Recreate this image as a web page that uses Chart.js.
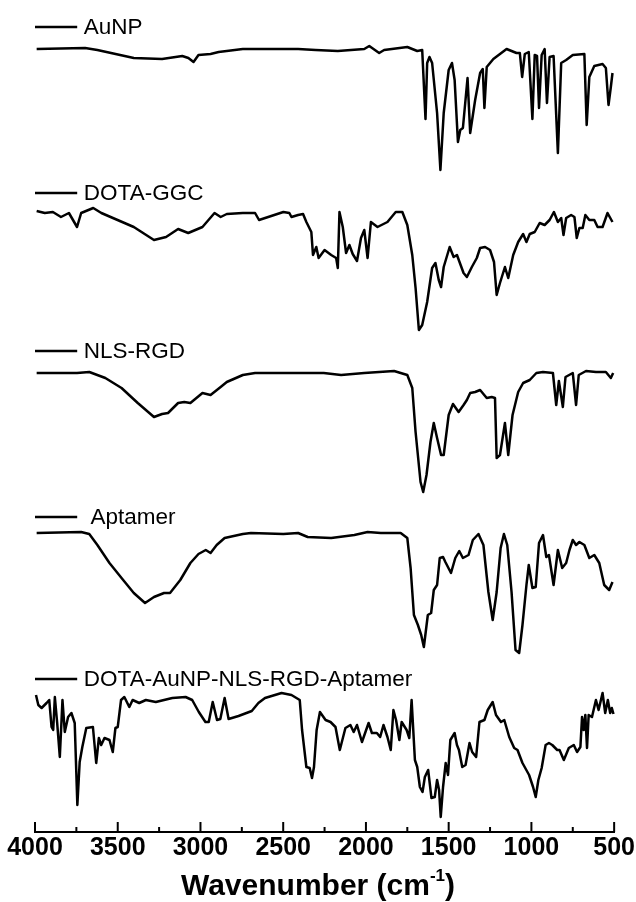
<!DOCTYPE html>
<html>
<head>
<meta charset="utf-8">
<script src="https://cdn.jsdelivr.net/npm/chart.js@4.4.1/dist/chart.umd.min.js"></script>
<style>
  html, body { margin: 0; padding: 0; background: #fff; }
  #wrap { width: 636px; height: 902px; position: relative; }
</style>
</head>
<body>
<div id="wrap"><canvas id="ftir"></canvas></div>
<script>
// FTIR spectra, relative transmittance (a.u.), plotted as an offset stack
const seriesNames = ['AuNP', 'DOTA-GGC', 'NLS-RGD', 'Aptamer', 'DOTA-AuNP-NLS-RGD-Aptamer'];
const seriesOffsets = [653, 490, 330, 169, 2];
const tickLabels = [4000, 3500, 3000, 2500, 2000, 1500, 1000, 500];

const aunpWn = [3990,3697,3623,3403,3232,3110,3073,3042,3012,2939,2890,2744,2499,2410,2304,2170,2010,1980,1920,1890,1750,1690,1660,1640,1630,1616,1600,1570,1550,1530,1500,1480,1464,1444,1430,1414,1386,1370,1340,1310,1294,1284,1270,1230,1150,1090,1070,1056,1040,1016,994,980,966,954,938,920,906,890,866,840,820,790,750,680,666,650,620,570,550,534,520,510];
const aunpT  = [130,131,129,121,120,123,121,117,124,125,127,130,130,130,129,128,130,133,126,129,132,128,129,60,116,122,116,66,9,66,109,116,99,37,49,51,101,46,79,106,110,71,112,120,130,126,126,102,125,127,60,124,123,71,124,130,76,122,123,26,116,119,124,125,54,102,113,115,111,74,92,106];

const ggcWn = [3990,3941,3892,3843,3795,3746,3721,3648,3599,3501,3403,3281,3208,3135,3074,2988,2915,2878,2841,2744,2670,2646,2499,2463,2450,2410,2380,2360,2330,2320,2300,2286,2250,2210,2180,2170,2160,2140,2120,2100,2080,2054,2030,2010,1990,1970,1930,1870,1820,1780,1750,1720,1700,1680,1660,1630,1600,1580,1560,1546,1530,1494,1470,1450,1410,1390,1360,1330,1310,1280,1250,1226,1210,1190,1160,1140,1110,1080,1050,1030,1010,980,950,920,890,864,840,820,806,790,760,740,726,710,690,674,650,620,600,570,540,510];
const ggcT  = [131,129,130,125,129,115,129,134,129,122,115,102,105,113,109,115,129,125,128,129,129,122,130,129,125,127,128,120,110,87,95,84,92,87,84,74,130,115,89,97,88,81,104,112,84,120,115,120,130,130,117,87,54,12,17,40,74,79,62,55,75,95,85,87,69,65,75,84,94,95,92,80,47,59,75,64,87,100,108,100,108,110,119,117,122,130,120,124,107,124,127,125,104,114,114,127,122,122,115,115,129,120];

const nlsWn = [3990,3746,3672,3575,3477,3379,3281,3232,3196,3135,3098,3061,2988,2939,2878,2841,2744,2670,2499,2410,2255,2150,2010,1830,1750,1720,1700,1670,1654,1634,1610,1590,1570,1546,1530,1500,1474,1440,1410,1390,1370,1340,1310,1270,1240,1220,1210,1190,1160,1140,1114,1080,1050,1010,970,930,870,850,834,810,794,750,730,714,670,610,550,520,506];
const nlsT  = [129,129,130,124,114,99,85,88,89,99,100,99,109,107,115,120,127,129,129,129,129,127,129,131,127,114,70,20,10,27,60,79,64,47,47,87,98,90,97,102,109,110,112,104,105,104,44,47,79,47,87,110,119,122,129,130,129,97,121,95,125,129,97,127,131,130,130,124,129];

const aptWn = [3990,3721,3672,3623,3550,3477,3403,3335,3281,3220,3184,3122,3061,3012,2968,2939,2902,2854,2744,2695,2499,2410,2352,2210,2070,1990,1910,1790,1750,1730,1710,1686,1666,1650,1626,1606,1590,1570,1554,1534,1520,1486,1460,1436,1414,1380,1354,1320,1290,1260,1234,1210,1186,1166,1146,1120,1096,1074,1054,1030,1016,994,974,954,930,910,894,866,840,814,790,770,750,730,710,680,650,620,590,560,530,510];
const aptT  = [130,131,129,118,100,85,70,60,66,70,70,83,100,109,113,110,118,125,129,130,129,130,126,125,128,131,130,130,125,95,48,38,28,16,48,50,73,78,105,106,101,90,105,112,105,108,123,129,118,71,43,71,115,129,118,71,13,10,38,78,98,75,76,120,128,106,108,78,113,95,100,113,123,118,121,118,105,108,100,78,73,81];

const conjWn = [3994,3980,3960,3930,3914,3900,3890,3880,3866,3850,3834,3820,3800,3780,3760,3744,3730,3714,3690,3650,3630,3614,3600,3580,3550,3530,3514,3500,3480,3460,3430,3410,3370,3330,3270,3170,3090,3050,3010,2970,2950,2926,2900,2880,2854,2830,2770,2690,2650,2610,2510,2450,2400,2386,2360,2340,2326,2314,2298,2278,2244,2214,2184,2158,2124,2094,2074,2054,2024,1984,1964,1934,1914,1894,1870,1850,1834,1818,1798,1784,1754,1738,1724,1704,1690,1674,1658,1644,1624,1604,1584,1570,1558,1548,1534,1518,1504,1490,1464,1450,1438,1418,1398,1374,1358,1334,1314,1284,1264,1234,1214,1184,1164,1134,1104,1084,1054,1014,990,974,958,938,914,894,874,844,830,804,774,744,724,704,694,684,674,664,654,634,610,594,570,554,538,524,514,504];
const conjT  = [135,125,122,127,130,103,100,133,107,73,130,98,113,117,107,25,68,83,102,103,67,92,85,92,90,78,102,103,130,133,123,130,127,130,128,132,133,130,118,108,108,128,110,111,132,111,114,119,127,132,137,135,130,100,63,62,52,63,100,118,110,108,103,80,102,105,98,105,88,107,97,97,93,105,93,80,120,110,90,108,100,92,130,70,63,43,38,53,60,32,33,50,40,13,43,67,55,90,97,85,80,63,65,87,78,73,108,110,120,128,115,108,110,93,82,80,67,55,43,33,50,62,85,87,85,80,80,70,82,85,78,83,113,100,115,82,115,113,130,120,137,117,130,117,122,116];

const seriesWn = [aunpWn, ggcWn, nlsWn, aptWn, conjWn];
const seriesT  = [aunpT, ggcT, nlsT, aptT, conjT];

const datasets = seriesNames.map((name, i) => ({
  label: name,
  data: seriesWn[i].map((w, k) => ({ x: w, y: seriesOffsets[i] + seriesT[i][k] })),
  borderColor: '#000',
  borderWidth: 2.5,
  borderJoinStyle: 'round',
  pointRadius: 0,
  tension: 0,
  fill: false,
  clip: false
}));

// Series captions: a short line sample followed by the name, above each trace
const captionPlugin = {
  id: 'captions',
  afterDatasetsDraw(chart) {
    const { ctx, scales: { x, y } } = chart;
    const lift = [22, 19, 21, 16, 21];
    const textStart = [3705, 3705, 3705, 3665, 3705];
    ctx.save();
    ctx.strokeStyle = '#000';
    ctx.fillStyle = '#000';
    ctx.lineWidth = 2.5;
    ctx.font = '22.5px "Liberation Sans", Arial, sans-serif';
    ctx.textAlign = 'left';
    ctx.textBaseline = 'middle';
    seriesNames.forEach((name, i) => {
      const py = Math.round(y.getPixelForValue(seriesOffsets[i] + 130 + lift[i]));
      ctx.beginPath();
      ctx.moveTo(x.getPixelForValue(4000), py);
      ctx.lineTo(x.getPixelForValue(3745), py);
      ctx.stroke();
      ctx.fillText(name, x.getPixelForValue(textStart[i]), py + 1);
    });
    ctx.restore();
  }
};

// Inward tick marks on the wavenumber axis and the axis title
const axisPlugin = {
  id: 'axisMarks',
  afterDraw(chart) {
    const { ctx, scales: { x }, chartArea } = chart;
    ctx.save();
    ctx.strokeStyle = '#000';
    ctx.lineWidth = 2;
    x.ticks.forEach(t => {
      const px = x.getPixelForValue(t.value);
      const len = tickLabels.includes(t.value) ? 10 : 5;
      ctx.beginPath();
      ctx.moveTo(px, chartArea.bottom);
      ctx.lineTo(px, chartArea.bottom - len);
      ctx.stroke();
    });
    // "Wavenumber (cm-1)" with superscript
    const main = 'bold 30px "Liberation Sans", Arial, sans-serif';
    const sup = 'bold 17px "Liberation Sans", Arial, sans-serif';
    const a = 'Wavenumber (cm', s = '-1', b = ')';
    ctx.font = main; const wa = ctx.measureText(a).width; const wb = ctx.measureText(b).width;
    ctx.font = sup; const ws = ctx.measureText(s).width;
    const total = wa + ws + wb;
    let cx = 318 - total / 2;
    const cy = 895;
    ctx.fillStyle = '#000';
    ctx.textAlign = 'left';
    ctx.textBaseline = 'alphabetic';
    ctx.font = main; ctx.fillText(a, cx, cy); cx += wa;
    ctx.font = sup; ctx.fillText(s, cx, cy - 14); cx += ws;
    ctx.font = main; ctx.fillText(b, cx, cy);
    ctx.restore();
  }
};

new Chart(document.getElementById('ftir'), {
  type: 'line',
  data: { datasets },
  options: {
    responsive: true,
    maintainAspectRatio: false,
    animation: false,
    layout: { padding: { left: 35, right: 18, top: 0, bottom: 0 } },
    plugins: { legend: { display: false }, tooltip: { enabled: false } },
    scales: {
      x: {
        type: 'linear',
        reverse: true,
        min: 500,
        max: 4000,
        grid: { display: false, drawTicks: false },
        border: { display: true, color: '#000', width: 2 },
        ticks: {
          stepSize: 250,
          autoSkip: false,
          maxRotation: 0,
          padding: 1,
          color: '#000',
          font: { family: '"Liberation Sans", Arial, sans-serif', size: 25, weight: 'bold' },
          callback: v => tickLabels.includes(v) ? String(v) : ''
        },
        afterFit: s => { s.height = 70; }
      },
      y: { display: false, min: 0, max: 832 }
    }
  },
  plugins: [captionPlugin, axisPlugin]
});
</script>
</body>
</html>
